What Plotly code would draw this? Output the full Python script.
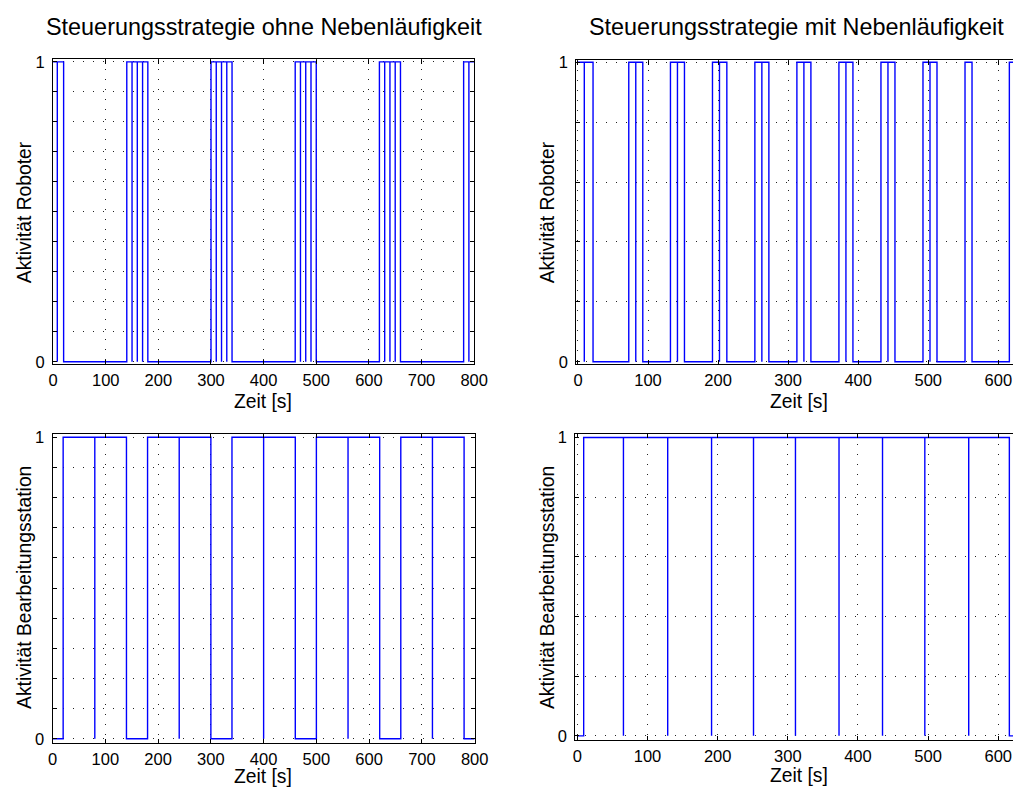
import plotly.graph_objects as go

# ---------------- data ----------------
title_left = "Steuerungsstrategie ohne Nebenläufigkeit"
title_right = "Steuerungsstrategie mit Nebenläufigkeit"
ylabel_robot = "Aktivität Roboter"
ylabel_station = "Aktivität Bearbeitungsstation"
xlabel = "Zeit [s]"

xticks_left = [0, 100, 200, 300, 400, 500, 600, 700, 800]
xticks_right = [0, 100, 200, 300, 400, 500, 600]
yticks_fine = [0, 0.1, 0.2, 0.3, 0.4, 0.5, 0.6, 0.7, 0.8, 0.9, 1]
yticks_coarse = [0, 0.2, 0.4, 0.6, 0.8, 1]

# Roboter, ohne Nebenläufigkeit (step signal: value holds from t until next t)
robot_ohne_t = [0, 8, 8, 20,
                140, 150, 150, 160, 160, 170, 170, 180,
                300, 310, 310, 320, 320, 330, 330, 340,
                460, 470, 470, 480, 480, 490, 490, 500,
                620, 630, 630, 640, 640, 650, 650, 660,
                780, 790, 790, 800]
robot_ohne_y = [1, 0, 1, 0,
                1, 0, 1, 0, 1, 0, 1, 0,
                1, 0, 1, 0, 1, 0, 1, 0,
                1, 0, 1, 0, 1, 0, 1, 0,
                1, 0, 1, 0, 1, 0, 1, 0,
                1, 0, 1, 1]

# Bearbeitungsstation, ohne Nebenläufigkeit
station_ohne_t = [0, 20, 80, 80, 140, 180, 240, 240, 300, 340, 400, 400,
                  460, 500, 560, 560, 620, 660, 720, 720, 780, 800]
station_ohne_y = [0, 1, 0, 1, 0, 1, 0, 1, 0, 1, 0, 1,
                  0, 1, 0, 1, 0, 1, 0, 1, 0, 0]

# Roboter, mit Nebenläufigkeit
robot_mit_t = [0, 9, 9, 21.5,
               72.5, 82.5, 82.5, 92.5,
               132, 142, 142, 152,
               192, 202, 202, 212.5,
               252.5, 262.5, 262.5, 272.5,
               312.5, 322.5, 322.5, 332.5,
               372.5, 382.5, 382.5, 392.5,
               432.5, 442.5, 442.5, 452.5,
               492.5, 502.5, 502.5, 512.5,
               552.5, 562.5,
               615.8, 625]
robot_mit_y = [1, 0, 1, 0,
               1, 0, 1, 0,
               1, 0, 1, 0,
               1, 0, 1, 0,
               1, 0, 1, 0,
               1, 0, 1, 0,
               1, 0, 1, 0,
               1, 0, 1, 0,
               1, 0, 1, 0,
               1, 0,
               1, 1]

# Bearbeitungsstation, mit Nebenläufigkeit
station_mit_t = [0, 9, 65.7, 65.7, 128.8, 128.8, 191.3, 191.3, 251.1, 251.1,
                 310.9, 310.9, 373, 373, 435, 435, 495.3, 495.3, 557.9, 557.9,
                 615.8, 625]
station_mit_y = [0, 1, 0, 1, 0, 1, 0, 1, 0, 1,
                 0, 1, 0, 1, 0, 1, 0, 1, 0, 1,
                 0, 0]

# ---------------- figure ----------------
W, H = 1027, 794
FONT = "Liberation Sans, Arial, Helvetica, sans-serif"
BLUE = "#0000ff"
GRID_DASH = "1px,9px"
TICK_SIZE = 16.5
LABEL_SIZE = 19.3
TITLE_SIZE = 23.4

fig = go.Figure()
series = [
    (robot_ohne_t, robot_ohne_y, "x", "y"),
    (robot_mit_t, robot_mit_y, "x2", "y2"),
    (station_ohne_t, station_ohne_y, "x3", "y3"),
    (station_mit_t, station_mit_y, "x4", "y4"),
]
for t, v, xa, ya in series:
    fig.add_trace(go.Scatter(x=t, y=v, mode="lines", line=dict(color=BLUE, width=1.4, shape="hv"),
                             xaxis=xa, yaxis=ya, showlegend=False, hoverinfo="skip"))


def xax(domain, rng, ticks, anchor, mirror="ticks"):
    return dict(domain=domain, range=rng, anchor=anchor, tickvals=ticks,
                ticktext=[str(v) for v in ticks], ticks="inside", ticklen=4, tickwidth=1,
                tickcolor="black", showline=True, linecolor="black", linewidth=1.2, mirror=mirror,
                showgrid=True, gridcolor="#222222", gridwidth=1, griddash=GRID_DASH,
                zeroline=False, tickfont=dict(size=TICK_SIZE, color="black", family=FONT),
                ticklabelstandoff=1)


def yax(domain, rng, ticks, anchor, mirror):
    labels = ["0" if v == 0 else ("1" if v == 1 else "") for v in ticks]
    return dict(domain=domain, range=rng, anchor=anchor, tickvals=ticks, ticktext=labels,
                ticks="inside", ticklen=4, tickwidth=1, tickcolor="black",
                showline=True, linecolor="black", linewidth=1.2, mirror=mirror,
                showgrid=True, gridcolor="#222222", gridwidth=1, griddash=GRID_DASH,
                zeroline=False, tickfont=dict(size=TICK_SIZE, color="black", family=FONT),
                ticklabelstandoff=4)


def label(text, x, y, size, angle=0):
    return dict(text=text, x=x / W, y=1 - y / H, xref="paper", yref="paper",
                xanchor="center", yanchor="middle", showarrow=False, textangle=angle,
                font=dict(size=size, color="black", family=FONT))


fig.update_layout(
    width=W, height=H,
    margin=dict(l=0, r=0, t=0, b=0),
    paper_bgcolor="white", plot_bgcolor="white",
    font=dict(family=FONT, color="black"),
    xaxis=xax([49 / W, 478 / W], [0, 800], xticks_left, "y"),
    yaxis=yax([1 - 363.3 / H, 1 - 53.3 / H], [-0.0085, 1.008], yticks_fine, "x", "ticks"),
    xaxis2=xax([582 / W, 1.0], [-2.5, 621], xticks_right, "y2"),
    yaxis2=yax([1 - 363.3 / H, 1 - 54.3 / H], [-0.0085, 1.006], yticks_coarse, "x2", False),
    xaxis3=xax([48.5 / W, 478.5 / W], [0, 800], xticks_left, "y3"),
    yaxis3=yax([1 - 748.3 / H, 1 - 434 / H], [-0.014, 1.011], yticks_fine, "x3", "ticks"),
    xaxis4=xax([581 / W, 1.0], [-3, 621], xticks_right, "y4"),
    yaxis4=yax([1 - 745 / H, 1 - 434.3 / H], [-0.0132, 1.011], yticks_coarse, "x4", False),
    annotations=[
        label(title_left, 264, 20, TITLE_SIZE),
        label(title_right, 806, 20, TITLE_SIZE),
        label(xlabel, 263, 401, LABEL_SIZE),
        label(xlabel, 809, 401, LABEL_SIZE),
        label(xlabel, 263, 782, LABEL_SIZE),
        label(xlabel, 809, 781, LABEL_SIZE),
        label(ylabel_robot, 20, 209, LABEL_SIZE, -90),
        label(ylabel_robot, 553, 209, LABEL_SIZE, -90),
        label(ylabel_station, 20, 590, LABEL_SIZE, -90),
        label(ylabel_station, 553, 590, LABEL_SIZE, -90),
    ],
)

fig.write_html("out.html", config={"displayModeBar": False},
               post_script="document.body.style.margin='0px';")
